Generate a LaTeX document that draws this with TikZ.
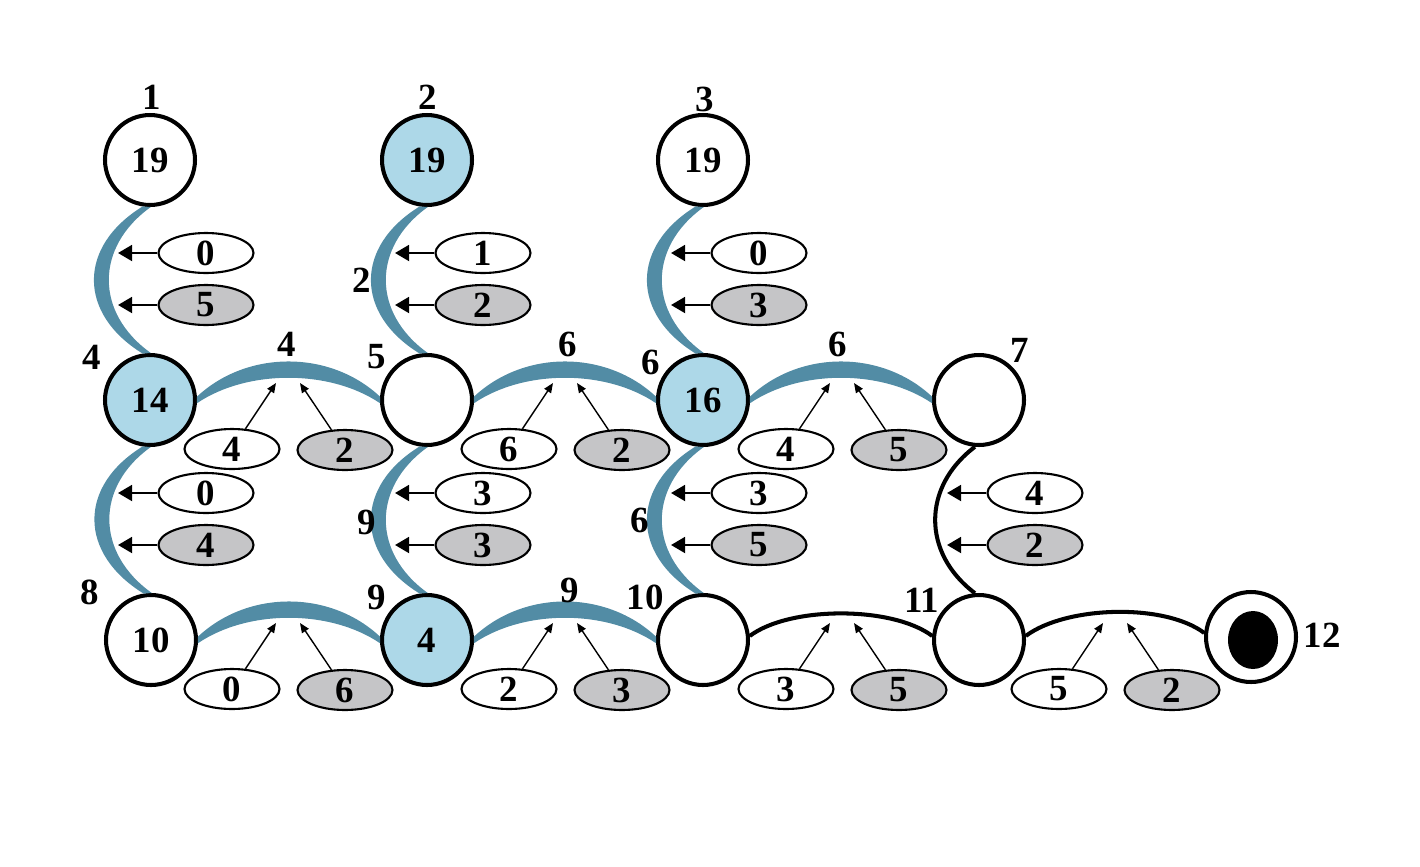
\documentclass[tikz,border=0pt]{standalone}
\usepackage{fontspec}
\setmainfont{Liberation Serif}
\usetikzlibrary{arrows.meta,positioning,shapes.geometric}
\definecolor{bowblue}{RGB}{82,140,165}
\definecolor{hotblue}{RGB}{173,216,232}
\definecolor{pgray}{RGB}{197,197,199}

\begin{document}
\begin{tikzpicture}[x=0.02cm, y=-0.02cm,
  every node/.style={font=\fontsize{21}{24}\selectfont\bfseries},
  vtx/.style={draw, circle, line width=2.3pt, minimum size=1.8cm, inner sep=0pt, fill=white},
  hot/.style={vtx, fill=hotblue},
  val/.style={draw, ellipse, line width=1.2pt, minimum width=1.9cm, minimum height=0.8cm, inner sep=0pt, fill=white},
  gval/.style={val, fill=pgray},
  bow/.style={fill=bowblue},
  wire/.style={line width=2.3pt},
  side/.style={-{Triangle[length=8pt,width=9pt]}, line width=1.4pt},
  up/.style={-{Triangle[length=5.5pt,width=4.5pt]}, line width=0.8pt}]
  \useasboundingbox (0,0) rectangle (1420,866);

  % Vertices
  \node[vtx] (n1) at (150,160) {19};
  \node[hot] (n2) at (427,160) {19};
  \node[vtx] (n3) at (703,160) {19};
  \node[hot] (n4) at (150,400) {14};
  \node[vtx] (n5) at (427,400) {};
  \node[hot] (n6) at (703,400) {16};
  \node[vtx] (n7) at (979,400) {};
  \node[vtx] (n8) at (151,640) {10};
  \node[hot] (n9) at (427,640) {4};
  \node[vtx] (n10) at (703,640) {};
  \node[vtx] (n11) at (979,640) {};
  \node[vtx] (n12) at (1251,637) {};
  \node[ellipse, fill=black, minimum width=1cm, minimum height=1.16cm, inner sep=0pt] (n12c) at (1253,640) {};

  % Vertex numbers
  \node (l1) at (152,97) {1};
  \node (l2) at (428,97) {2};
  \node (l3) at (705,99) {3};
  \node (l4) at (92,357) {4};
  \node (l5) at (377,357) {5};
  \node (l6) at (651,362) {6};
  \node (l7) at (1020,350) {7};
  \node (l8) at (90,592) {8};
  \node (l9) at (377,597) {9};
  \node (l10) at (645,597) {10};
  \node (l11) at (922,600) {11};
  \node (l12) at (1322,635) {12};

  % Blue bows, downward
  \foreach \a/\b in {n1/n4, n2/n5, n3/n6, n4/n8, n5/n9, n6/n10}
    \fill[bow] (\a.261) .. controls +(-65,40) and +(-65,-40) .. (\b.99)
      -- (\b.89) .. controls +(-56,-40) and +(-56,40) .. (\a.271) -- cycle;

  % Blue bows, sideways
  \foreach \a/\b in {n4/n5, n5/n6, n6/n7, n8/n9, n9/n10}
    \fill[bow] (\a.4) .. controls +(50,-47) and +(-50,-47) .. (\b.176)
      -- (\b.184) .. controls +(-50,-34) and +(50,-34) .. (\a.-4) -- cycle;

  % Black wires
  \draw[wire] (n7.265) .. controls +(-53,40) and +(-53,-40) .. (n11.95);
  \draw[wire] (n10.5) .. controls +(40,-30) and +(-40,-30) .. (n11.175);
  \draw[wire] (n11.5) .. controls +(40,-30) and +(-40,-30) .. (n12.175);

  % Edge numbers
  \node (e25) at (362,280) {2};
  \node (e59) at (367,522) {9};
  \node (e610) at (640,520) {6};
  \node (e45) at (287,344) {4};
  \node (e56) at (568,344) {6};
  \node (e67) at (838,344) {6};
  \node (e910) at (570,590) {9};

  % Weights on the downward edges
  \foreach \nm/\cx/\cy/\a/\b in {a/150/253/0/5, b/427/253/1/2, c/703/253/0/3,
      d/150/493/0/4, e/427/493/3/3, f/703/493/3/5, g/979/493/4/2}{
    \node[val] (\nm w) at (\cx+56,\cy) {\a};
    \node[gval] (\nm g) at (\cx+56,\cy+52) {\b};
    \coordinate (\nm wt) at (\cx-32,\cy);
    \coordinate (\nm gt) at (\cx-32,\cy+52);
    \draw[side] (\nm w) -- (\nm wt);
    \draw[side] (\nm g) -- (\nm gt);
  }

  % Weights on the sideways edges
  \foreach \nm/\mx/\my/\a/\b in {h/288/400/4/2, i/565/400/6/2, j/842/400/4/5,
      k/288/640/0/6, l/565/640/2/3, m/842/640/3/5, o/1115/640/5/2}{
    \node[val] (\nm w) at (\mx-56,\my+49) {\a};
    \node[gval] (\nm g) at (\mx+57,\my+50) {\b};
    \coordinate (\nm wt) at (\mx-12,\my-17);
    \coordinate (\nm gt) at (\mx+12,\my-17);
    \draw[up] (\nm w) -- (\nm wt);
    \draw[up] (\nm g) -- (\nm gt);
  }
\end{tikzpicture}
\end{document}
